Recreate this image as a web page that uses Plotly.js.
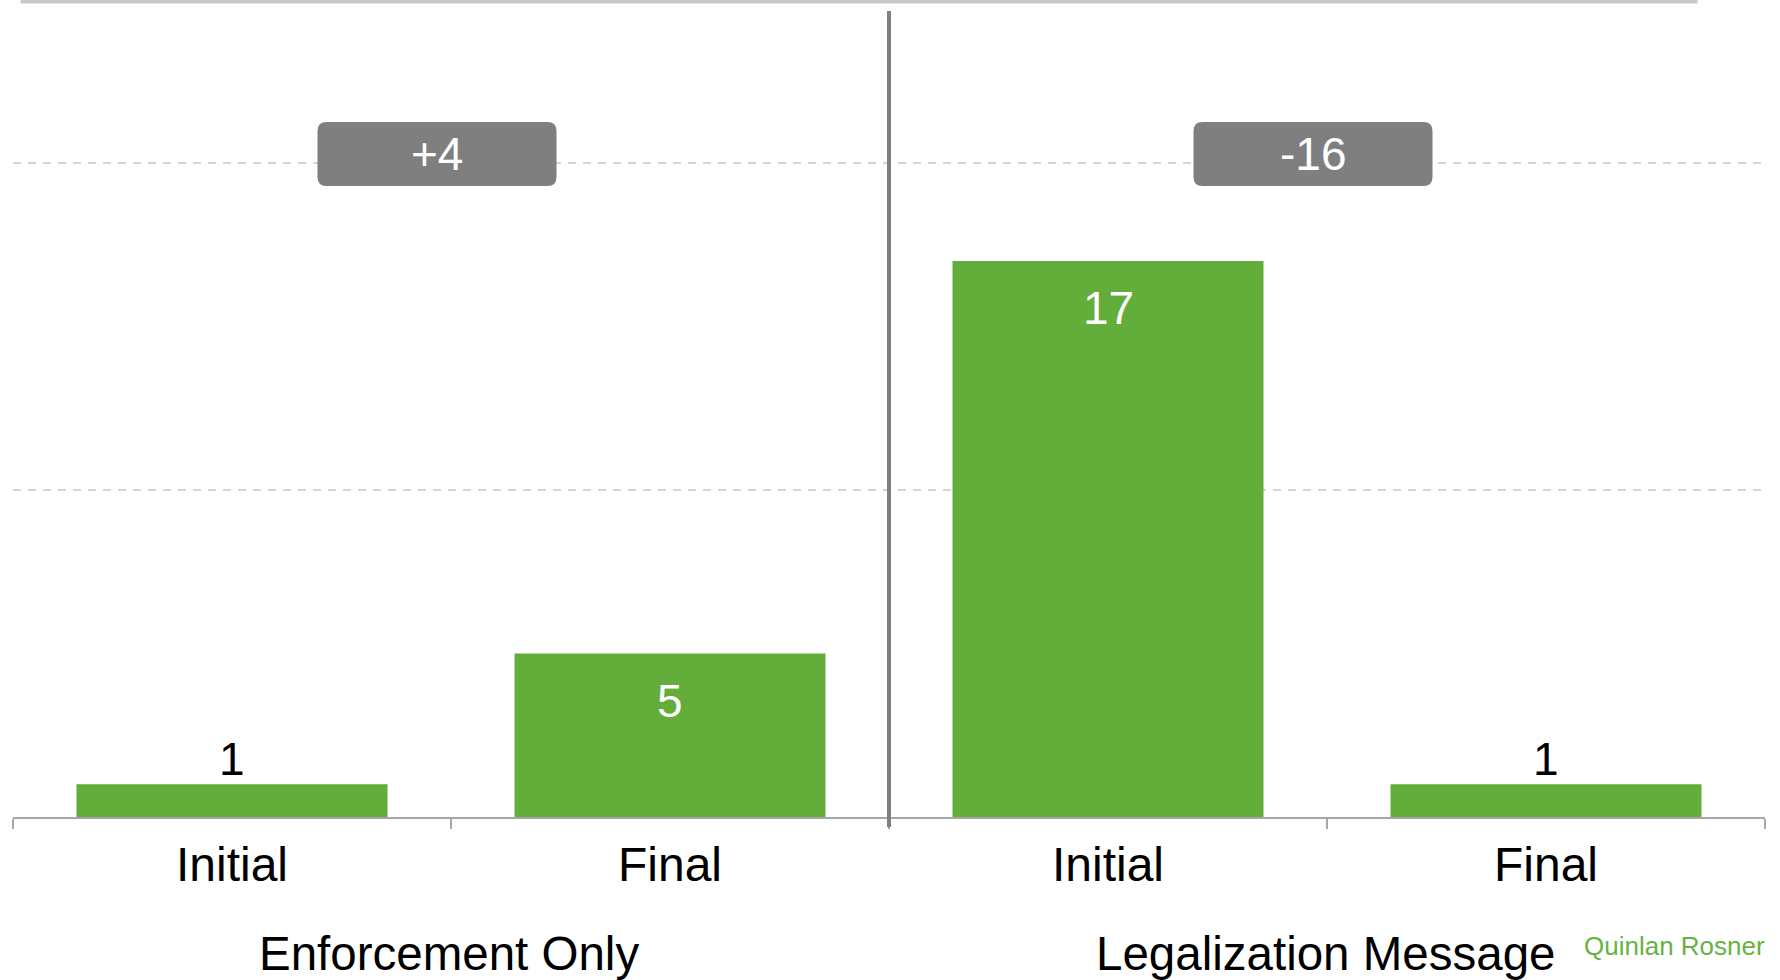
<!DOCTYPE html>
<html>
<head>
<meta charset="utf-8">
<script src="https://cdn.plot.ly/plotly-3.0.1.min.js"></script>
<style>
  html, body { margin: 0; padding: 0; background: #ffffff; }
  #chart { width: 1780px; height: 980px; }
</style>
</head>
<body>
<div id="chart"></div>
<script>
// ---- data ----
const groups = ["Enforcement Only", "Legalization Message"];
const stages = ["Initial", "Final"];
const enforcementValues = [1, 5];
const legalizationValues = [17, 1];
const tickLabels = ["Initial", "Final", "Initial", "Final"];
const gridValues = [10, 20];
const creditText = "Quinlan Rosner";

// ---- derived ----
const seriesByGroup = [enforcementValues, legalizationValues];
const keys = [];
const values = [];
groups.forEach(function (g, gi) {
  stages.forEach(function (s, si) {
    keys.push(g + " | " + s);
    values.push(seriesByGroup[gi][si]);
  });
});
function signed(n) { return (n > 0 ? "+" : "") + n; }

const FONT = "Liberation Sans, Arial, Helvetica, sans-serif";
const GREEN = "#63AD3A";
const BOXGRAY = "#7F7F7F";

const trace = {
  type: "bar",
  x: keys,
  y: values,
  marker: { color: GREEN, line: { width: 0 } },
  hoverinfo: "skip",
  showlegend: false
};

const annotations = [];
const shapes = [];

// value labels
values.forEach(function (v, i) {
  const inside = v >= 3;
  annotations.push({
    x: keys[i], y: v, xref: "x", yref: "y",
    text: String(v), showarrow: false,
    yanchor: "middle", xanchor: "center",
    yshift: inside ? -47 : 25,
    font: { family: FONT, size: 46, color: inside ? "#ffffff" : "#000000" }
  });
});

// change boxes + group labels
const boxHalfW = 119.5, boxTop = 41, boxBot = -23, r = 9, boxOff = -14;
groups.forEach(function (g, gi) {
  const vals = seriesByGroup[gi];
  const change = vals[vals.length - 1] - vals[0];
  const xa = gi * 2 + 0.5;
  const L = boxOff - boxHalfW, R = boxOff + boxHalfW;
  const path = "M " + (L + r) + " " + boxTop +
    " L " + (R - r) + " " + boxTop +
    " Q " + R + " " + boxTop + " " + R + " " + (boxTop - r) +
    " L " + R + " " + (boxBot + r) +
    " Q " + R + " " + boxBot + " " + (R - r) + " " + boxBot +
    " L " + (L + r) + " " + boxBot +
    " Q " + L + " " + boxBot + " " + L + " " + (boxBot + r) +
    " L " + L + " " + (boxTop - r) +
    " Q " + L + " " + boxTop + " " + (L + r) + " " + boxTop + " Z";
  shapes.push({
    type: "path", xref: "x", yref: "y",
    xsizemode: "pixel", ysizemode: "pixel",
    xanchor: xa, yanchor: gridValues[1],
    path: path, fillcolor: BOXGRAY, line: { width: 0 }, layer: "above"
  });
  annotations.push({
    x: xa, y: gridValues[1], xref: "x", yref: "y",
    xshift: boxOff, yshift: 9,
    text: signed(change), showarrow: false,
    xanchor: "center", yanchor: "middle",
    font: { family: FONT, size: 46, color: "#ffffff" }
  });
  annotations.push({
    x: (gi * 2 + 1) / 4, y: 0, xref: "paper", yref: "paper",
    xshift: -2, yshift: -136, text: g, showarrow: false,
    xanchor: "center", yanchor: "middle",
    font: { family: FONT, size: 47.5, color: "#000000" }
  });
});

// divider between groups
shapes.push({
  type: "line", xref: "x", yref: "paper",
  x0: 1.5, x1: 1.5,
  ysizemode: "pixel", yanchor: 0, y0: -10, y1: 806,
  line: { color: "#7F7F7F", width: 4 }, layer: "above"
});

// top light-gray bar (remnant of frame)
shapes.push({
  type: "rect", xref: "paper", yref: "paper",
  x0: 0.0043, x1: 0.9615,
  ysizemode: "pixel", yanchor: 1, y0: 6.5, y1: 13,
  fillcolor: "#C9C9C9", line: { width: 0 }, layer: "above"
});

// credit
annotations.push({
  x: 1.001, y: 0, xref: "paper", yref: "paper",
  yshift: -129, text: creditText, showarrow: false,
  xanchor: "right", yanchor: "middle",
  font: { family: FONT, size: 26, color: "#66B342" }
});

const layout = {
  width: 1780, height: 980,
  margin: { l: 13, r: 15, t: 10, b: 163, pad: 0 },
  paper_bgcolor: "#ffffff", plot_bgcolor: "#ffffff",
  bargap: 0.29,
  font: { family: FONT, color: "#000000" },
  xaxis: {
    type: "category",
    range: [-0.5, 3.5],
    tickmode: "array", tickvals: keys, ticktext: tickLabels,
    tickson: "boundaries",
    ticks: "outside", ticklen: 10, tickwidth: 1.5, tickcolor: "#A6A6A6",
    ticklabelstandoff: 4,
    showline: true, linecolor: "#A6A6A6", linewidth: 2,
    showgrid: false, zeroline: false,
    tickfont: { family: FONT, size: 48, color: "#000000" },
    fixedrange: true
  },
  yaxis: {
    range: [0, 24.68],
    tickmode: "array", tickvals: gridValues,
    showticklabels: false, ticks: "",
    showgrid: true, gridcolor: "#D4D4D4", gridwidth: 1.5, griddash: "8px,7px",
    zeroline: false, showline: false,
    fixedrange: true
  },
  shapes: shapes,
  annotations: annotations
};

Plotly.newPlot("chart", [trace], layout, { staticPlot: true, displayModeBar: false });
</script>
</body>
</html>
